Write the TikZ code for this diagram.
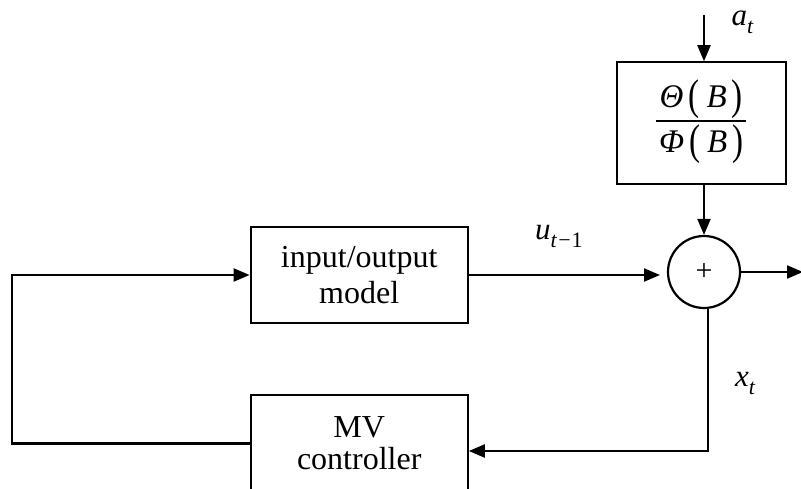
\documentclass[tikz,border=0pt]{standalone}
\usepackage{fontspec}
\usepackage{graphicx}
\setmainfont{Liberation Serif}
\usetikzlibrary{arrows.meta}
\newcommand\lbl[2]{\textit{#1}\raisebox{-8pt}{\fontsize{22}{22}\selectfont #2}}
\newcommand\parL{\smash{\raisebox{-2pt}{\scalebox{1}[1.3]{(}}}}
\newcommand\parR{\smash{\raisebox{-2pt}{\scalebox{1}[1.3]{)}}}}
\newcommand\fracpart[1]{\hbox to 90pt{\hss\textit{#1}\kern5pt\parL\kern7pt\textit{B}\kern5pt\parR\hss}}
\begin{document}
\begin{tikzpicture}[x=1pt,y=-1pt,
  blk/.style={draw,line width=2.2pt,rectangle,inner sep=0pt,align=center},
  arr/.style={line width=2.2pt,-{Triangle[length=16pt,width=13pt]}},
  lab/.style={inner sep=0pt,anchor=base west,font=\fontsize{31}{31}\selectfont}]
\useasboundingbox (0,0) rectangle (801,489);
\node[blk,minimum width=169pt,minimum height=121.7pt] (G) at (701.2,123.2)
  {\fontsize{33}{33}\selectfont\vbox{\fracpart{Θ}\kern11.7pt\hrule height 2pt\kern8.8pt\fracpart{Φ}\kern8pt}};
\node[draw,circle,line width=2.2pt,minimum size=72pt,inner sep=0pt,font=\fontsize{30}{30}\selectfont] (S) at (704,272) {+};
\node[blk,minimum width=217pt,minimum height=95.4pt,font=\fontsize{32}{36.7}\selectfont] (M) at (359.2,275) {input/output\\model};
\node[blk,minimum width=217pt,minimum height=97pt,font=\fontsize{32}{31.7}\selectfont] (C) at (359.2,443.5) {MV\\controller};
\coordinate (in) at (704,15);
\coordinate (out) at (803,272);
\coordinate (fb) at (707.7,451);
\coordinate (lx) at (11.7,360);
\draw[arr] (in) -- (in |- G.north);
\draw[arr] (S.north |- G.south) -- (S.north);
\draw[arr] (M.east) -- (660,275);
\draw[arr] (S.east) -- (out);
\draw[arr] ([xshift=3.7pt]S.south) -- (fb) -- (fb -| C.east);
\draw[arr] (C.west) -- (C.west -| lx) -- (lx |- M.west) -- (M.west);
\node[lab] (la) at (731.5,26) {\lbl{a}{\textit{t}}};
\node[lab] (lu) at (535,240) {\lbl{u}{\textit{t}\kern1pt−\kern1pt1}};
\node[lab] (lx2) at (735,386.7) {\lbl{x}{\textit{t}}};
\end{tikzpicture}
\end{document}
